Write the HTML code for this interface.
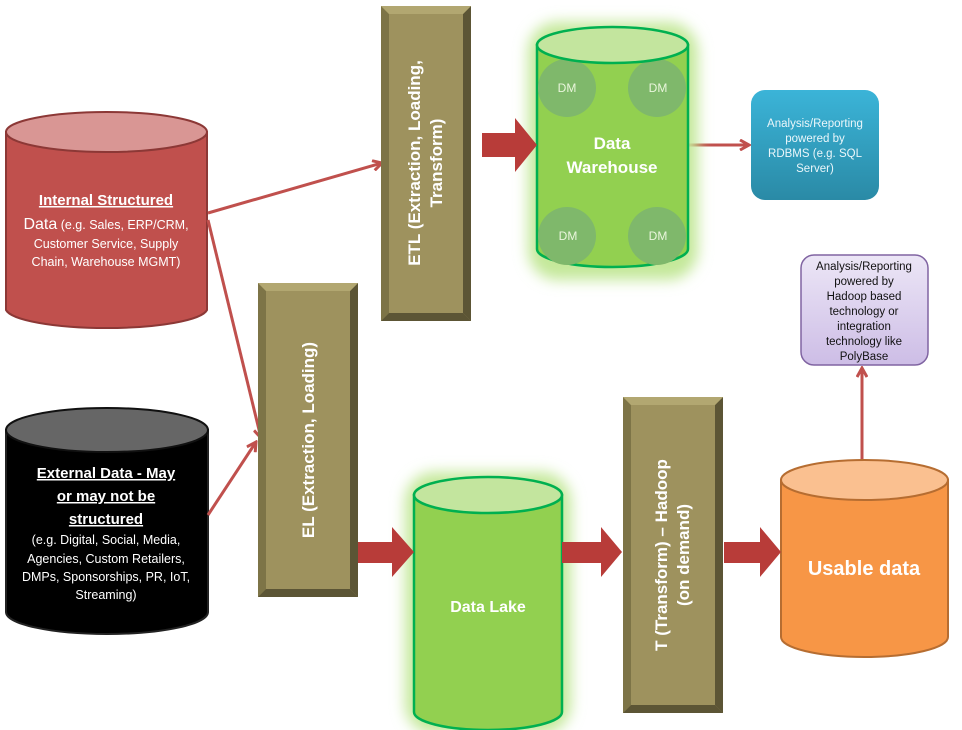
<!DOCTYPE html>
<html><head><meta charset="utf-8"><style>
body{margin:0;background:#fff}
svg{display:block;font-family:"Liberation Sans",sans-serif}
</style></head><body>
<svg width="962" height="730" viewBox="0 0 962 730" xmlns="http://www.w3.org/2000/svg">
<defs>
<marker id="ah" markerWidth="12" markerHeight="12" refX="10" refY="6" orient="auto" markerUnits="userSpaceOnUse">
<path d="M1,1 L10,6 L1,11" fill="none" stroke="#c0504d" stroke-width="3"/>
</marker>
<linearGradient id="blue" x1="0" y1="0" x2="0" y2="1"><stop offset="0" stop-color="#3bb4d8"/><stop offset="1" stop-color="#2a8aa6"/></linearGradient>
<linearGradient id="purp" x1="0" y1="0" x2="0" y2="1"><stop offset="0" stop-color="#ece6f6"/><stop offset="1" stop-color="#cdbde6"/></linearGradient>
<filter id="glow" x="-30%" y="-30%" width="160%" height="160%"><feGaussianBlur stdDeviation="7"/></filter>
</defs>

<path d="M6,132 V310 A101,20 0 0 0 207,310 V132 Z" fill="#c0504d" stroke="#8c3836" stroke-width="2"/>
<ellipse cx="106.5" cy="132" rx="100.5" ry="20" fill="#d99694" stroke="#8c3836" stroke-width="2"/>
<g fill="#fff" text-anchor="middle">
<text x="106" y="205" font-size="15" font-weight="bold" text-decoration="underline">Internal Structured</text>
<text x="106" y="229" font-size="12.5"><tspan font-size="16">Data</tspan> (e.g. Sales, ERP/CRM,</text>
<text x="106" y="248" font-size="12.5">Customer Service, Supply</text>
<text x="106" y="266" font-size="12.5">Chain, Warehouse MGMT)</text>
</g>

<path d="M6,430 V612 A101,22 0 0 0 208,612 V430 Z" fill="#000" stroke="#222" stroke-width="2"/>
<ellipse cx="107" cy="430" rx="101" ry="22" fill="#666" stroke="#111" stroke-width="2"/>
<g fill="#fff" text-anchor="middle">
<text x="106" y="478" font-size="15" font-weight="bold" text-decoration="underline">External Data - May</text>
<text x="106" y="501" font-size="15" font-weight="bold" text-decoration="underline">or may not be</text>
<text x="106" y="524" font-size="15" font-weight="bold" text-decoration="underline">structured</text>
<text x="106" y="544" font-size="12.5">(e.g. Digital, Social, Media,</text>
<text x="106" y="563" font-size="12.5">Agencies, Custom Retailers,</text>
<text x="106" y="581" font-size="12.5">DMPs, Sponsorships, PR, IoT,</text>
<text x="106" y="599" font-size="12.5">Streaming)</text>
</g>

<g stroke="#c0504d" stroke-width="3" fill="none" marker-end="url(#ah)">
<line x1="208" y1="213" x2="382" y2="163"/>
<line x1="208" y1="220" x2="261" y2="438"/>
<line x1="208" y1="515" x2="256" y2="442"/>
<line x1="688" y1="145" x2="749" y2="145"/>
<line x1="862" y1="460" x2="862" y2="368"/>
</g>

<g>
<rect x="381" y="6" width="90" height="315" fill="#9e925e"/>
<path d="M381,6 L389,14 V313 L381,321Z" fill="#7d7447"/>
<path d="M471,6 L463,14 V313 L471,321Z" fill="#5c5535"/>
<path d="M381,321 L389,313 H463 L471,321Z" fill="#5c5535"/>
<path d="M381,6 L389,14 H463 L471,6Z" fill="#b2a771"/>
<text transform="translate(426,163) rotate(-90)" fill="#fff" font-size="17" font-weight="bold" text-anchor="middle"><tspan x="0" y="-6">ETL (Extraction, Loading,</tspan><tspan x="0" y="16">Transform)</tspan></text>
</g>
<g>
<rect x="258" y="283" width="100" height="314" fill="#9e925e"/>
<path d="M258,283 L266,291 V589 L258,597Z" fill="#7d7447"/>
<path d="M358,283 L350,291 V589 L358,597Z" fill="#5c5535"/>
<path d="M258,597 L266,589 H350 L358,597Z" fill="#5c5535"/>
<path d="M258,283 L266,291 H350 L358,283Z" fill="#b2a771"/>
<text transform="translate(314,440) rotate(-90)" fill="#fff" font-size="17" font-weight="bold" text-anchor="middle">EL (Extraction, Loading)</text>
</g>
<g>
<rect x="623" y="397" width="100" height="316" fill="#9e925e"/>
<path d="M623,397 L631,405 V705 L623,713Z" fill="#7d7447"/>
<path d="M723,397 L715,405 V705 L723,713Z" fill="#5c5535"/>
<path d="M623,713 L631,705 H715 L723,713Z" fill="#5c5535"/>
<path d="M623,397 L631,405 H715 L723,397Z" fill="#b2a771"/>
<text transform="translate(673,555) rotate(-90)" fill="#fff" font-size="17" font-weight="bold" text-anchor="middle"><tspan x="0" y="-6">T (Transform) – Hadoop</tspan><tspan x="0" y="16">(on demand)</tspan></text>
</g>

<rect x="528" y="22" width="170" height="258" rx="30" fill="#c4e89a" filter="url(#glow)"/>
<path d="M537,45 V249 A75.5,18 0 0 0 688,249 V45 Z" fill="#92d050" stroke="#00b050" stroke-width="2.5"/>
<g fill="#7fb86b">
<circle cx="567" cy="88" r="29"/><circle cx="657" cy="88" r="29"/>
<circle cx="567" cy="236" r="29"/><circle cx="657" cy="236" r="29"/>
</g>
<ellipse cx="612.5" cy="45" rx="75.5" ry="18" fill="#c3e59e" stroke="#00b050" stroke-width="2.5"/>
<g fill="#eaf6dc" font-size="12" text-anchor="middle">
<text x="567" y="92">DM</text><text x="658" y="92">DM</text>
<text x="568" y="240">DM</text><text x="658" y="240">DM</text>
</g>
<text x="612" y="149" fill="#fff" font-size="17" font-weight="bold" text-anchor="middle">Data</text>
<text x="612" y="173" fill="#fff" font-size="17" font-weight="bold" text-anchor="middle">Warehouse</text>

<rect x="405" y="472" width="166" height="262" rx="30" fill="#c4e89a" filter="url(#glow)"/>
<path d="M414,495 V712 A74,18 0 0 0 562,712 V495 Z" fill="#92d050" stroke="#00b050" stroke-width="2.5"/>
<ellipse cx="488" cy="495" rx="74" ry="18" fill="#c3e59e" stroke="#00b050" stroke-width="2.5"/>
<text x="488" y="612" fill="#fff" font-size="16" font-weight="bold" text-anchor="middle">Data Lake</text>

<path d="M781,480 V637 A83.5,20 0 0 0 948,637 V480 Z" fill="#f79646" stroke="#b66d31" stroke-width="2"/>
<ellipse cx="864.5" cy="480" rx="83.5" ry="20" fill="#fac090" stroke="#b66d31" stroke-width="2"/>
<text x="864" y="575" fill="#fff" font-size="20" font-weight="bold" text-anchor="middle">Usable data</text>

<g fill="#b83c39">
<path d="M482,133 H515 V118 L537,145 L515,172 V157 H482Z"/>
<path d="M358,542 H392 V527 L414,552 L392,577 V563 H358Z"/>
<path d="M562,542 H601 V527 L622,552 L601,577 V563 H562Z"/>
<path d="M724,542 H760 V527 L781,552 L760,577 V563 H724Z"/>
</g>

<rect x="751" y="90" width="128" height="110" rx="14" fill="url(#blue)"/>
<g fill="#eaf6fa" font-size="11.5" text-anchor="middle">
<text x="815" y="127">Analysis/Reporting</text>
<text x="815" y="142">powered by</text>
<text x="815" y="157">RDBMS (e.g. SQL</text>
<text x="815" y="172">Server)</text>
</g>

<rect x="801" y="255" width="127" height="110" rx="13" fill="url(#purp)" stroke="#8064a2" stroke-width="1.5"/>
<g fill="#111" font-size="11.5" text-anchor="middle">
<text x="864" y="270">Analysis/Reporting</text>
<text x="864" y="285">powered by</text>
<text x="864" y="300">Hadoop based</text>
<text x="864" y="315">technology or</text>
<text x="864" y="330">integration</text>
<text x="864" y="345">technology like</text>
<text x="864" y="360">PolyBase</text>
</g>
</svg>
</body></html>
